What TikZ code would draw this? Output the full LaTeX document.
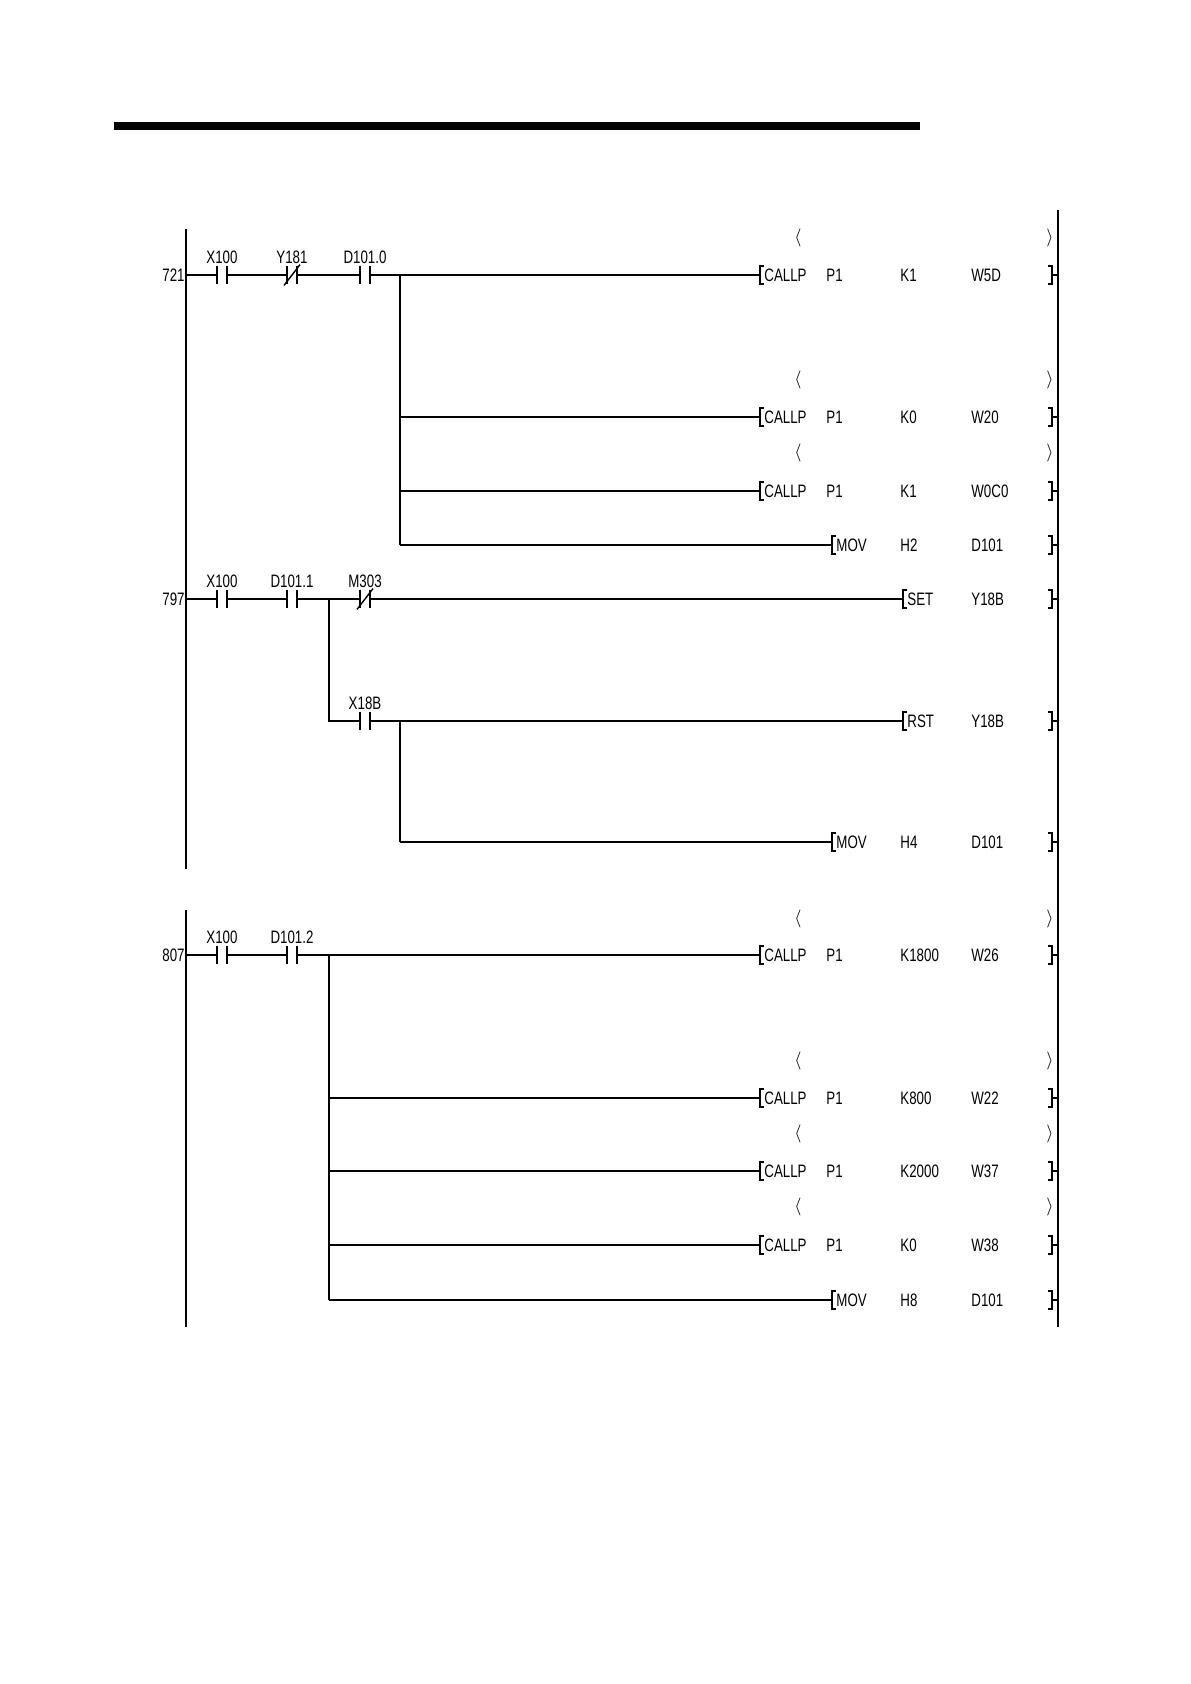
\documentclass[tikz,border=0pt]{standalone}
\usepackage{fontspec}
\setmainfont[FakeStretch=0.74]{Liberation Sans}
\tikzset{
  wire/.style={line width=0.7pt},
  lbl/.style={font=\fontsize{9}{10}\selectfont, inner sep=0pt},
  contact/.style={inner sep=0pt, minimum width=4.5pt, minimum height=9pt},
}
% contact: name, x, y, label, 1 = normally closed
\newcommand{\contact}[5]{%
  \node[contact] (#1) at (#2,#3) {};
  \draw[wire] (#1.north west) -- (#1.south west) (#1.north east) -- (#1.south east);
  \ifnum#5=1 \draw[wire] ([xshift=-4pt,yshift=-0.5pt]#1.south) -- ([xshift=4pt,yshift=0.5pt]#1.north);\fi
  \node[lbl] (#1L) at (#2,#3-18) {#4};}
% instruction box start: name, x, y, opcode
\newcommand{\instr}[4]{%
  \node[lbl, anchor=west] (#1) at (#2+4,#3) {#4};
  \coordinate (#1B) at (#2,#3);
  \draw[wire] (#2+4,#3-9) -- (#2,#3-9) -- (#2,#3+9) -- (#2+4,#3+9);
  \draw[wire] (1048,#3-9) -- (1052,#3-9) -- (1052,#3+9) -- (1048,#3+9);
  \draw[wire] (1052,#3) -- (1058,#3);}
\newcommand{\angles}[1]{%
  \node[lbl] at (798,#1) {$\langle$};
  \node[lbl] at (1050,#1) {$\rangle$};}
\begin{document}
\begin{tikzpicture}[x=0.5pt,y=-0.5pt]
\useasboundingbox (0,0) rectangle (1190,1684);

% header bar
\fill (114,122) rectangle (920,130);

% rails
\draw[wire] (186,229) -- (186,869);
\draw[wire] (186,910) -- (186,1327);
\draw[wire] (1058,210) -- (1058,1327);

% rung 721
\node[lbl, anchor=east] (s721) at (185,275) {721};
\coordinate (r1) at (186,275);
\contact{x1}{222}{275}{X100}{0}
\contact{y1}{292}{275}{Y181}{1}
\contact{d1}{365}{275}{D101.0}{0}
\coordinate (b1) at (400,275);
\coordinate (b1a) at (400,417);
\coordinate (b1b) at (400,491);
\coordinate (b1c) at (400,545);
\draw[wire] (r1) -- (x1.west) (x1.east) -- (y1.west) (y1.east) -- (d1.west) (d1.east) -- (b1);
\draw[wire] (b1) -- (b1c);
\angles{238}
\instr{i1}{760}{275}{CALLP}
\draw[wire] (b1) -- (i1B);
\node[lbl, anchor=west] at (826,275) {P1};
\node[lbl, anchor=west] at (900,275) {K1};
\node[lbl, anchor=west] at (971,275) {W5D};
\angles{380}
\instr{i2}{760}{417}{CALLP}
\draw[wire] (b1a) -- (i2B);
\node[lbl, anchor=west] at (826,417) {P1};
\node[lbl, anchor=west] at (900,417) {K0};
\node[lbl, anchor=west] at (971,417) {W20};
\angles{453}
\instr{i3}{760}{491}{CALLP}
\draw[wire] (b1b) -- (i3B);
\node[lbl, anchor=west] at (826,491) {P1};
\node[lbl, anchor=west] at (900,491) {K1};
\node[lbl, anchor=west] at (971,491) {W0C0};
\instr{i4}{832}{545}{MOV}
\draw[wire] (b1c) -- (i4B);
\node[lbl, anchor=west] at (900,545) {H2};
\node[lbl, anchor=west] at (971,545) {D101};

% rung 797
\node[lbl, anchor=east] (s797) at (185,599) {797};
\coordinate (r2) at (186,599);
\contact{x2}{222}{599}{X100}{0}
\contact{d2}{292}{599}{D101.1}{0}
\contact{m2}{365}{599}{M303}{1}
\contact{x3}{365}{721}{X18B}{0}
\coordinate (b2) at (329,599);
\coordinate (b2a) at (329,721);
\coordinate (b3) at (400,721);
\coordinate (b3a) at (400,842);
\draw[wire] (r2) -- (x2.west) (x2.east) -- (d2.west) (d2.east) -- (b2) -- (m2.west);
\draw[wire] (b2) -- (b2a) -- (x3.west) (x3.east) -- (b3) -- (b3a);
\instr{i5}{903}{599}{SET}
\draw[wire] (m2.east) -- (i5B);
\node[lbl, anchor=west] at (971,599) {Y18B};
\instr{i6}{903}{721}{RST}
\draw[wire] (b3) -- (i6B);
\node[lbl, anchor=west] at (971,721) {Y18B};
\instr{i7}{832}{842}{MOV}
\draw[wire] (b3a) -- (i7B);
\node[lbl, anchor=west] at (900,842) {H4};
\node[lbl, anchor=west] at (971,842) {D101};

% rung 807
\node[lbl, anchor=east] (s807) at (185,955) {807};
\coordinate (r3) at (186,955);
\contact{x4}{222}{955}{X100}{0}
\contact{d4}{292}{955}{D101.2}{0}
\coordinate (b4) at (329,955);
\coordinate (b4a) at (329,1098);
\coordinate (b4b) at (329,1171);
\coordinate (b4c) at (329,1245);
\coordinate (b4d) at (329,1300);
\draw[wire] (r3) -- (x4.west) (x4.east) -- (d4.west) (d4.east) -- (b4) -- (b4d);
\angles{919}
\instr{i8}{760}{955}{CALLP}
\draw[wire] (b4) -- (i8B);
\node[lbl, anchor=west] at (826,955) {P1};
\node[lbl, anchor=west] at (900,955) {K1800};
\node[lbl, anchor=west] at (971,955) {W26};
\angles{1061}
\instr{i9}{760}{1098}{CALLP}
\draw[wire] (b4a) -- (i9B);
\node[lbl, anchor=west] at (826,1098) {P1};
\node[lbl, anchor=west] at (900,1098) {K800};
\node[lbl, anchor=west] at (971,1098) {W22};
\angles{1134}
\instr{i10}{760}{1171}{CALLP}
\draw[wire] (b4b) -- (i10B);
\node[lbl, anchor=west] at (826,1171) {P1};
\node[lbl, anchor=west] at (900,1171) {K2000};
\node[lbl, anchor=west] at (971,1171) {W37};
\angles{1207}
\instr{i11}{760}{1245}{CALLP}
\draw[wire] (b4c) -- (i11B);
\node[lbl, anchor=west] at (826,1245) {P1};
\node[lbl, anchor=west] at (900,1245) {K0};
\node[lbl, anchor=west] at (971,1245) {W38};
\instr{i12}{832}{1300}{MOV}
\draw[wire] (b4d) -- (i12B);
\node[lbl, anchor=west] at (900,1300) {H8};
\node[lbl, anchor=west] at (971,1300) {D101};
\end{tikzpicture}
\end{document}
